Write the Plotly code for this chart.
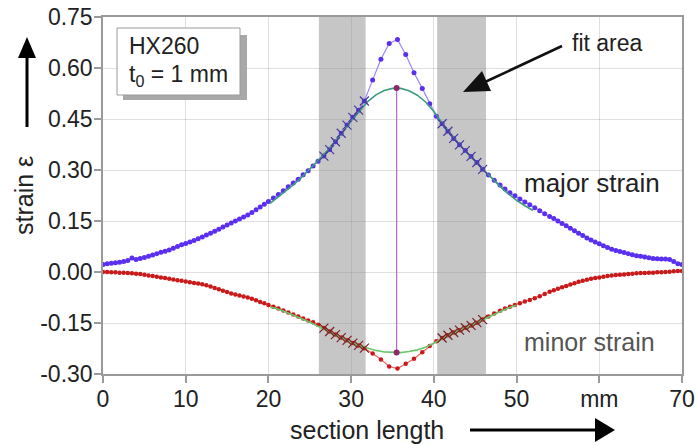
import plotly.graph_objects as go

# ---- measured section (mm) ----
section_x = [
    0.0, 0.5, 1.0, 1.5, 2.0, 2.5, 3.0, 3.5, 4.0, 4.5, 5.0, 5.5, 6.0, 6.5, 7.0, 7.5,
    8.0, 8.5, 9.0, 9.5, 10.0, 10.5, 11.0, 11.5, 12.0, 12.5, 13.0, 13.5, 14.0, 14.5,
    15.0, 15.5, 16.0, 16.5, 17.0, 17.5, 18.0, 18.5, 19.0, 19.5, 20.0,
    20.6, 21.2, 21.8, 22.4, 23.0, 23.6, 24.2, 24.8, 25.4, 26.0,
    26.7, 27.4, 28.1, 28.8, 29.5, 30.2, 30.9, 31.6,
    32.6, 33.6, 34.6, 35.6, 36.6, 37.6, 38.6, 39.5,
    40.3, 41.0, 41.7, 42.4, 43.1, 43.8, 44.5, 45.2, 45.9,
    46.6, 47.3, 48.0, 48.6, 49.2, 49.8, 50.4, 51.0, 51.6, 52.2, 52.8, 53.4, 54.0,
    54.5, 55.0, 55.5, 56.0, 56.5, 57.0, 57.5, 58.0, 58.5, 59.0, 59.5, 60.0, 60.5,
    61.0, 61.5, 62.0, 62.5, 63.0, 63.5, 64.0, 64.5, 65.0, 65.5, 66.0, 66.5, 67.0,
    67.5, 68.0, 68.5, 69.0, 69.5, 70.0,
]

major_strain = [
    0.022, 0.024, 0.026, 0.027, 0.029, 0.031, 0.034, 0.041, 0.037, 0.040, 0.043, 0.046,
    0.050, 0.054, 0.058, 0.061, 0.065, 0.070, 0.075, 0.080, 0.084, 0.088, 0.093, 0.098,
    0.103, 0.109, 0.114, 0.120, 0.126, 0.132, 0.138, 0.144, 0.150, 0.156, 0.162, 0.168,
    0.175, 0.183, 0.191, 0.199, 0.207,
    0.218, 0.228, 0.239, 0.251, 0.262, 0.273, 0.286, 0.298, 0.312, 0.326,
    0.341, 0.360, 0.383, 0.408, 0.432, 0.455, 0.476, 0.503,
    0.565, 0.626, 0.672, 0.684, 0.640, 0.586, 0.540, 0.495,
    0.458, 0.436, 0.414, 0.393, 0.374, 0.357, 0.340, 0.322, 0.302,
    0.285, 0.270, 0.256, 0.244, 0.233, 0.224, 0.215, 0.206, 0.198, 0.189, 0.180, 0.171, 0.163,
    0.157, 0.150, 0.143, 0.136, 0.129, 0.121, 0.114, 0.107, 0.100, 0.094, 0.088, 0.083, 0.077,
    0.072, 0.067, 0.063, 0.060, 0.057, 0.054, 0.051, 0.048, 0.046, 0.044, 0.042, 0.040, 0.039,
    0.038, 0.038, 0.037, 0.031, 0.024, 0.022,
]

minor_strain = [
    0.000, 0.000, -0.001, -0.001, -0.002, -0.002, -0.003, -0.004, -0.005, -0.006, -0.008, -0.010,
    -0.012, -0.014, -0.016, -0.018, -0.020, -0.022, -0.024, -0.026, -0.028, -0.030, -0.032, -0.034,
    -0.036, -0.039, -0.043, -0.047, -0.051, -0.055, -0.059, -0.063, -0.066, -0.069, -0.072, -0.075,
    -0.079, -0.083, -0.088, -0.092, -0.097,
    -0.102, -0.107, -0.113, -0.119, -0.125, -0.131, -0.137, -0.143, -0.148, -0.155,
    -0.165, -0.175, -0.184, -0.193, -0.201, -0.209, -0.216, -0.224,
    -0.240, -0.257, -0.278, -0.284, -0.270, -0.255, -0.236, -0.218,
    -0.204, -0.194, -0.186, -0.178, -0.171, -0.164, -0.157, -0.149, -0.140,
    -0.131, -0.122, -0.114, -0.107, -0.102, -0.097, -0.092, -0.087, -0.082, -0.077, -0.071, -0.065, -0.058,
    -0.054, -0.049, -0.045, -0.041, -0.037, -0.033, -0.029, -0.026, -0.023, -0.020, -0.018, -0.016, -0.014,
    -0.012, -0.010, -0.009, -0.008, -0.007, -0.006, -0.005, -0.004, -0.003, -0.003, -0.002, -0.002, -0.001,
    -0.001, 0.000, 0.001, 0.002, 0.003, 0.003,
]

# ---- fitted curves ----
fit_major_x = [20.2, 21, 22, 23, 24, 25, 26, 27, 28, 29, 30, 31, 32, 33, 34, 35, 35.5, 36, 37,
               38, 39, 40, 41, 42, 43, 44, 45, 46, 47, 48, 49, 50, 51, 52]
fit_major_y = [0.202, 0.217, 0.236, 0.256, 0.278, 0.302, 0.328, 0.354, 0.382, 0.412, 0.444,
               0.474, 0.501, 0.521, 0.534, 0.540, 0.541, 0.540, 0.533, 0.520, 0.500, 0.472,
               0.438, 0.406, 0.377, 0.350, 0.325, 0.300, 0.277, 0.252, 0.230, 0.211, 0.195, 0.181]

fit_minor_x = [20.2, 21, 22, 23, 24, 25, 26, 27, 28, 29, 30, 31, 32, 33, 34, 35, 35.5, 36, 37,
               38, 39, 40, 41, 42, 43, 44, 45, 46, 47, 48, 49, 50]
fit_minor_y = [-0.103, -0.108, -0.117, -0.127, -0.137, -0.148, -0.160, -0.172, -0.184, -0.196,
               -0.207, -0.217, -0.225, -0.231, -0.235, -0.237, -0.237, -0.237, -0.234, -0.229,
               -0.221, -0.209, -0.196, -0.183, -0.172, -0.162, -0.151, -0.140, -0.128, -0.117,
               -0.106, -0.098]

# fit windows (mm) and fitted extrema
fit_windows = [(26.1, 31.75), (40.4, 46.3)]
peak_x = 35.5
peak_major = 0.541
peak_minor = -0.237

x_tickvals = [0, 10, 20, 30, 40, 50, 60, 70]
x_ticktext = ["0", "10", "20", "30", "40", "50", "mm", "70"]
y_tickvals = [-0.30, -0.15, 0.00, 0.15, 0.30, 0.45, 0.60, 0.75]
y_ticktext = ["-0.30", "-0.15", "0.00", "0.15", "0.30", "0.45", "0.60", "0.75"]

FONT = "Liberation Sans, Arial, sans-serif"
TXT = "#222222"

# page geometry (pixels) for decorations placed outside the plot area
W, H = 697, 444
ML, MR, MT, MB = 103, 15, 17, 70
PW, PH = W - ML - MR, H - MT - MB


def px(X):
    return (X - ML) / PW


def py(Y):
    return (H - MB - Y) / PH


def in_windows(xs, ys):
    ox, oy = [], []
    for a, b in zip(xs, ys):
        if any(lo <= a <= hi for lo, hi in fit_windows):
            ox.append(a)
            oy.append(b)
    return ox, oy


fig = go.Figure()

# measured curves
fig.add_trace(go.Scatter(
    x=section_x, y=major_strain, mode="lines+markers",
    line=dict(color="#9d84ff", width=1.2),
    marker=dict(color="#5a2ff0", size=5),
    showlegend=False))
fig.add_trace(go.Scatter(
    x=section_x, y=minor_strain, mode="lines+markers",
    line=dict(color="#f06060", width=1.2),
    marker=dict(color="#c81a1a", size=4.5),
    showlegend=False))

# fitted curves
fig.add_trace(go.Scatter(
    x=fit_major_x, y=fit_major_y, mode="lines",
    line=dict(color="#3d9c7c", width=1.6), showlegend=False))
fig.add_trace(go.Scatter(
    x=fit_minor_x, y=fit_minor_y, mode="lines",
    line=dict(color="#6cc86c", width=1.6), showlegend=False))

# points used for the fit
mx, my = in_windows(section_x, major_strain)
nx, ny = in_windows(section_x, minor_strain)
fig.add_trace(go.Scatter(
    x=mx, y=my, mode="markers",
    marker=dict(symbol="x-thin", size=9, line=dict(color="#4a3a9a", width=1.2)),
    showlegend=False))
fig.add_trace(go.Scatter(
    x=nx, y=ny, mode="markers",
    marker=dict(symbol="x-thin", size=9, line=dict(color="#7a2424", width=1.2)),
    showlegend=False))

# vertical line between fitted extrema
fig.add_trace(go.Scatter(
    x=[peak_x, peak_x], y=[peak_major, peak_minor], mode="lines+markers",
    line=dict(color="#b46ad0", width=1.2),
    marker=dict(color="#8a2a6a", size=6),
    showlegend=False))

shapes = []
for lo, hi in fit_windows:
    shapes.append(dict(type="rect", xref="x", yref="y", x0=lo, x1=hi, y0=-0.30, y1=0.75,
                       fillcolor="#c6c6c6", line=dict(width=0), layer="below"))

# material label box with drop shadow
shapes.append(dict(type="rect", xref="paper", yref="paper",
                   x0=px(123), x1=px(247), y0=py(100), y1=py(35),
                   fillcolor="#a8a8a8", line=dict(width=0)))
shapes.append(dict(type="rect", xref="paper", yref="paper",
                   x0=px(117), x1=px(240), y0=py(95), y1=py(28),
                   fillcolor="white", line=dict(color="#9a9a9a", width=1)))

# axis direction arrows
shapes.append(dict(type="line", xref="paper", yref="paper",
                   x0=px(27), x1=px(27), y0=py(127), y1=py(55),
                   line=dict(color="black", width=3)))
shapes.append(dict(type="path", xref="paper", yref="paper",
                   path=f"M {px(27)},{py(37)} L {px(18)},{py(58)} L {px(36)},{py(58)} Z",
                   fillcolor="black", line=dict(width=0)))
shapes.append(dict(type="line", xref="paper", yref="paper",
                   x0=px(470), x1=px(598), y0=py(430), y1=py(430),
                   line=dict(color="black", width=3)))
shapes.append(dict(type="path", xref="paper", yref="paper",
                   path=f"M {px(615)},{py(430)} L {px(595)},{py(418)} L {px(595)},{py(442)} Z",
                   fillcolor="black", line=dict(width=0)))

# arrow pointing at the fit window
shapes.append(dict(type="line", xref="paper", yref="paper",
                   x0=px(562), x1=px(485), y0=py(46), y1=py(82),
                   line=dict(color="#111111", width=2.5)))
shapes.append(dict(type="path", xref="paper", yref="paper",
                   path=(f"M {px(463)},{py(92)} L {px(482)},{py(71)} "
                         f"L {px(491)},{py(91)} Z"),
                   fillcolor="#111111", line=dict(width=0)))

annotations = [
    dict(text="HX260", xref="paper", yref="paper", x=px(127), y=py(46),
         xanchor="left", yanchor="middle", showarrow=False,
         font=dict(family=FONT, size=23, color=TXT)),
    dict(text="t<sub>0</sub> = 1 mm", xref="paper", yref="paper", x=px(127), y=py(75),
         xanchor="left", yanchor="middle", showarrow=False,
         font=dict(family=FONT, size=23, color=TXT)),
    dict(text="fit area", xref="paper", yref="paper", x=px(607), y=py(43),
         xanchor="center", yanchor="middle", showarrow=False,
         font=dict(family=FONT, size=23, color=TXT)),
    dict(text="major strain", xref="paper", yref="paper", x=px(592), y=py(183),
         xanchor="center", yanchor="middle", showarrow=False,
         font=dict(family=FONT, size=26, color=TXT)),
    dict(text="minor strain", xref="paper", yref="paper", x=px(589), y=py(342),
         xanchor="center", yanchor="middle", showarrow=False,
         font=dict(family=FONT, size=25, color="#555555")),
    dict(text="strain ε", xref="paper", yref="paper", x=px(24), y=py(196),
         xanchor="center", yanchor="middle", showarrow=False, textangle=-90,
         font=dict(family=FONT, size=25, color=TXT)),
    dict(text="section length", xref="paper", yref="paper", x=px(367), y=py(430),
         xanchor="center", yanchor="middle", showarrow=False,
         font=dict(family=FONT, size=25, color=TXT)),
]

axis_common = dict(
    showline=True, mirror=True, linecolor="#9a9a9a", linewidth=1.5,
    showgrid=True, gridcolor="rgba(140,140,140,0.28)", gridwidth=1,
    ticks="outside", ticklen=7, tickcolor="#9a9a9a", tickwidth=1.5,
    zeroline=False, automargin=False, ticklabelstandoff=-3,
    tickfont=dict(family=FONT, size=23, color=TXT),
)

fig.update_layout(
    width=W, height=H,
    margin=dict(l=ML, r=MR, t=MT, b=MB),
    paper_bgcolor="white", plot_bgcolor="white",
    shapes=shapes, annotations=annotations,
    xaxis=dict(range=[0, 70], tickvals=x_tickvals, ticktext=x_ticktext, **axis_common),
    yaxis=dict(range=[-0.30, 0.75], tickvals=y_tickvals, ticktext=y_ticktext, **axis_common),
)

fig.write_html("out.html")
